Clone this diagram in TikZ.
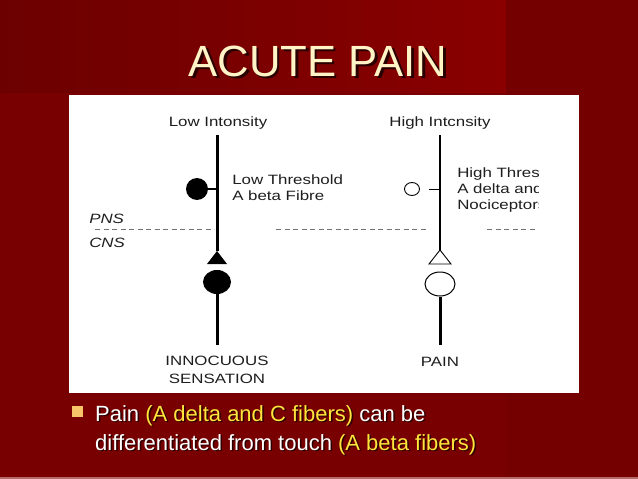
\documentclass[tikz,border=0pt]{standalone}
\usepackage{fontspec}
\setmainfont{Liberation Sans}
\usetikzlibrary{shapes.geometric}
\definecolor{bgmain}{HTML}{780000}
\definecolor{bgdark}{HTML}{6C0000}
\definecolor{bgbright}{HTML}{8A0000}
\definecolor{bgright}{HTML}{740000}
\definecolor{bgline}{HTML}{B86A6A}
\definecolor{titlecol}{HTML}{FFF4C6}
\definecolor{shadowcol}{HTML}{2A0000}
\definecolor{yelcol}{HTML}{FFE53C}
\definecolor{bulletcol}{HTML}{F8C46A}
\definecolor{inkcol}{HTML}{1E1E1E}
\newcommand{\shadowed}[2]{\rlap{\hspace{#1}\raisebox{-#1}{\color{shadowcol}#2}}}
\begin{document}
\begin{tikzpicture}[x=1pt,y=-1pt,
  lbl/.style={font=\fontsize{13.5}{15}\selectfont, xscale=1.25, transform shape, inner sep=0pt, text=inkcol},
  lblit/.style={lbl, font=\fontsize{13.5}{15}\selectfont\itshape},
  thickfibre/.style={draw=black, line width=3pt},
  thinfibre/.style={draw=black, line width=1.1pt},
  border/.style={draw=black!55, line width=0.8pt, dash pattern=on 5pt off 3.5pt},
  titletext/.style={font=\fontsize{43.7}{50}\selectfont, inner sep=0pt, anchor=base},
  bodytext/.style={font=\fontsize{22}{29}\selectfont, inner sep=0pt, anchor=base west}
]
\useasboundingbox (0,0) rectangle (638,479);
% background
\fill[bgmain] (0,0) rectangle (638,479);
\shade[left color=bgdark, right color=bgbright] (0,0) rectangle (506,92);
\fill[bgright] (506,0) rectangle (638,479);
\fill[bgline] (0,477) rectangle (638,479);
% title (with drop shadow)
\node[titletext, text=titlecol] (title) at (318,76) {\shadowed{2.5pt}{ACUTE PAIN}ACUTE PAIN};
% white panel
\fill[white] (69,95) rectangle (579,393);
% PNS / CNS border
\coordinate (dA1) at (95,229);
\coordinate (dA2) at (214,229);
\coordinate (dB1) at (276,229);
\coordinate (dB2) at (428,229);
\coordinate (dC1) at (487,229);
\coordinate (dC2) at (537,229);
\draw[border] (dA1) -- (dA2);
\draw[border] (dB1) -- (dB2);
\draw[border] (dC1) -- (dC2);
\node[lblit, anchor=base west] (pns) at (89,223) {PNS};
\node[lblit, anchor=base west] (cns) at (89,247) {CNS};
% left pathway (low intensity)
\node[lbl, anchor=base] (lowint) at (218,126) {Low Intonsity};
\coordinate (ltop) at (217,135);
\coordinate (lapex) at (217,251);
\coordinate (lbaseL) at (207,264);
\coordinate (lbaseR) at (227,264);
\coordinate (lbot) at (217,345);
\draw[thickfibre] (ltop) -- (lapex);
\fill[black] (lbaseL) -- (lbaseR) -- (lapex) -- cycle;
\node[circle, fill=black, minimum size=22pt, inner sep=0pt] (lrec) at (197,189) {};
\draw[black, line width=2pt] (lrec.east) -- (lrec.east -| ltop);
\node[ellipse, fill=black, minimum width=28pt, minimum height=24pt, inner sep=0pt] (lsoma) at (217,282) {};
\draw[thickfibre] (lsoma.south) -- (lbot);
\node[lbl, anchor=base west] (lowthr) at (232,184) {Low Threshold};
\node[lbl, anchor=base west] (abeta) at (232,200) {A beta Fibre};
\node[lbl, anchor=base] (innoc) at (217,365) {INNOCUOUS};
\node[lbl, anchor=base] (sens) at (217,383) {SENSATION};
% right pathway (high intensity)
\node[lbl, anchor=base] (highint) at (440,126) {High Intcnsity};
\coordinate (rtop) at (440,135);
\coordinate (rapex) at (440,250);
\coordinate (rbaseL) at (429,264);
\coordinate (rbaseR) at (451,264);
\coordinate (rbot) at (440,345);
\draw[thinfibre] (rtop) -- (rapex);
\draw[black, line width=0.9pt, line join=miter] (rbaseL) -- (rbaseR) -- (rapex) -- cycle;
\node[ellipse, draw=black, line width=0.9pt, minimum width=15pt, minimum height=13pt, inner sep=0pt] (rrec) at (412,189) {};
\coordinate (rtick) at (429,189);
\draw[black, line width=1pt] (rtick) -- (rtick -| rtop);
\node[ellipse, draw=black, line width=1pt, minimum width=30pt, minimum height=24pt, inner sep=0pt] (rsoma) at (440,284) {};
\draw[thickfibre] (rsoma.south) -- (rbot);
\node[lbl, anchor=base] (pain) at (440,366) {PAIN};
\begin{scope}
\clip (450,160) rectangle (538,215);
\node[lbl, anchor=base west] (highthr) at (457,177) {High Threshold};
\node[lbl, anchor=base west] (adelta) at (457,193) {A delta and C};
\node[lbl, anchor=base west] (nocic) at (457,209) {Nociceptors};
\end{scope}
% bullet
\fill[bulletcol] (72,406) rectangle (83,417);
\node[bodytext, text=white] (b1) at (95,421) {\shadowed{1.5pt}{Pain (A delta and C fibers) can be}Pain {\color{yelcol}(A delta and C fibers)} can be};
\node[bodytext, text=white] (b2) at (95,450) {\shadowed{1.5pt}{differentiated from touch (A beta fibers)}differentiated from touch {\color{yelcol}(A beta fibers)}};
\end{tikzpicture}
\end{document}
